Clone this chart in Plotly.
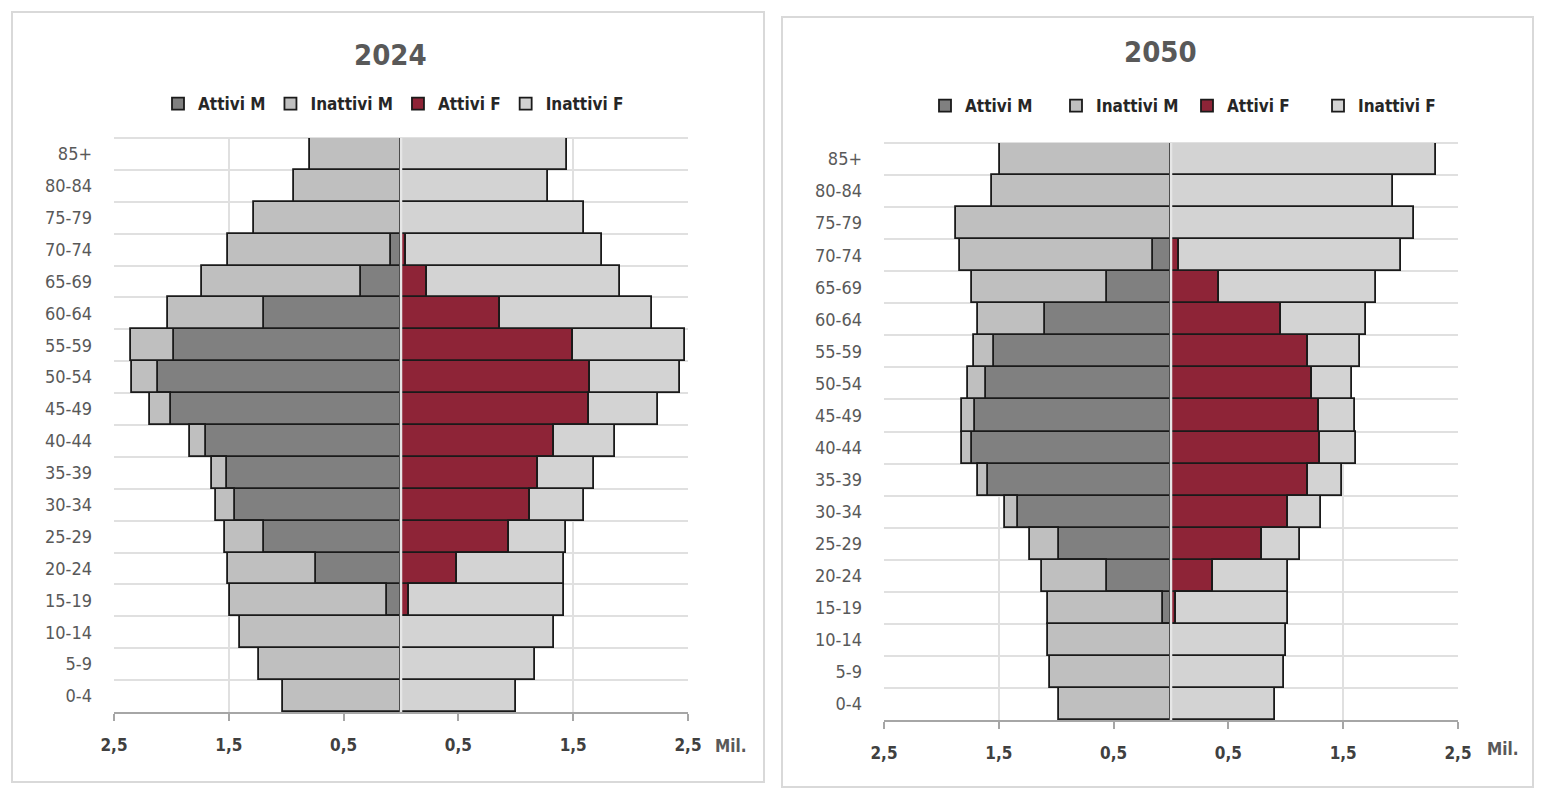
import plotly.graph_objects as go

# ---------------- data (millions) ----------------
ages = ["0-4", "5-9", "10-14", "15-19", "20-24", "25-29", "30-34", "35-39", "40-44",
        "45-49", "50-54", "55-59", "60-64", "65-69", "70-74", "75-79", "80-84", "85+"]

# 2024
att_m_2024 = [0, 0, 0, 0.12, 0.74, 1.19, 1.45, 1.52, 1.70, 2.00, 2.12, 1.98, 1.19, 0.35, 0.09, 0, 0, 0]
inatt_m_2024 = [1.03, 1.24, 1.40, 1.37, 0.77, 0.34, 0.16, 0.13, 0.14, 0.19, 0.22, 0.37, 0.84, 1.38, 1.42, 1.28, 0.93, 0.79]
att_f_2024 = [0, 0, 0, 0.07, 0.49, 0.94, 1.12, 1.19, 1.33, 1.64, 1.65, 1.50, 0.86, 0.23, 0.04, 0, 0, 0]
inatt_f_2024 = [1.00, 1.17, 1.33, 1.35, 0.93, 0.50, 0.47, 0.49, 0.53, 0.60, 0.78, 0.97, 1.33, 1.68, 1.71, 1.59, 1.28, 1.45]

# 2050
att_m_2050 = [0, 0, 0, 0.07, 0.56, 0.98, 1.33, 1.59, 1.73, 1.71, 1.61, 1.54, 1.10, 0.56, 0.16, 0, 0, 0]
inatt_m_2050 = [0.98, 1.05, 1.07, 1.00, 0.56, 0.25, 0.12, 0.09, 0.09, 0.11, 0.16, 0.18, 0.58, 1.17, 1.68, 1.87, 1.56, 1.49]
att_f_2050 = [0, 0, 0, 0.04, 0.37, 0.79, 1.02, 1.19, 1.30, 1.29, 1.23, 1.19, 0.96, 0.42, 0.07, 0, 0, 0]
inatt_f_2050 = [0.91, 0.98, 1.00, 0.98, 0.65, 0.33, 0.29, 0.30, 0.31, 0.31, 0.35, 0.46, 0.74, 1.37, 1.93, 2.12, 1.93, 2.31]

series_names = ["Attivi M", "Inattivi M", "Attivi F", "Inattivi F"]
series_colors = ["#808080", "#bfbfbf", "#8e2437", "#d3d3d3"]
tick_vals = [-2.5, -1.5, -0.5, 0.5, 1.5, 2.5]
tick_text = ["2,5", "1,5", "0,5", "0,5", "1,5", "2,5"]
years = ["2024", "2050"]

panels = [
    (att_m_2024, inatt_m_2024, att_f_2024, inatt_f_2024),
    (att_m_2050, inatt_m_2050, att_f_2050, inatt_f_2050),
]

W, H = 1547, 796
FONT = "Liberation Sans Narrow, Arial Narrow, DejaVu Sans Condensed, sans-serif"
TXT = "#595959"

fig = go.Figure()
for p, (am, im, af, inf) in enumerate(panels):
    xa = "x" if p == 0 else "x2"
    ya = "y" if p == 0 else "y2"
    lg = "legend" if p == 0 else "legend2"
    vals = [[-v for v in am], [-v for v in im], af, inf]
    for name, col, v in zip(series_names, series_colors, vals):
        fig.add_trace(go.Bar(
            y=ages, x=v, name=name, orientation="h",
            marker=dict(color=col, line=dict(color="#1a1a1a", width=1.8)),
            xaxis=xa, yaxis=ya, legend=lg, hoverinfo="skip",
        ))

# pixel geometry
def px(x):
    return x / W

def py(y):
    return 1 - y / H

plot_boxes = [(114, 688, 138, 712), (884, 1458, 143, 720)]

axis_common = dict(
    range=[-2.5, 2.5], tickvals=tick_vals, ticktext=tick_text, automargin=False,
    showgrid=True, gridcolor="#e0e0e0", gridwidth=2, zeroline=False,
    showline=True, linecolor="#a6a6a6", linewidth=2,
    ticks="outside", ticklen=7, tickcolor="#a6a6a6", tickwidth=2,
    tickfont=dict(family=FONT, size=17, color="#404040", weight="bold"),
    ticklabelstandoff=10, fixedrange=True,
)
yaxis_common = dict(
    type="category", tickson="boundaries", showgrid=True, gridcolor="#e0e0e0",
    gridwidth=2, ticks="", showline=False, zeroline=False, automargin=False,
    tickfont=dict(family=FONT, size=18, color=TXT), ticklabelstandoff=21,
    fixedrange=True,
)

x0, x1, y0, y1 = plot_boxes[0]
fig.update_layout(xaxis=dict(domain=[px(x0), px(x1)], anchor="y", **axis_common),
                  yaxis=dict(domain=[py(y1), py(y0)], anchor="x", **yaxis_common))
x0, x1, y0, y1 = plot_boxes[1]
fig.update_layout(xaxis2=dict(domain=[px(x0), px(x1)], anchor="y2", **axis_common),
                  yaxis2=dict(domain=[py(y1), py(y0)], anchor="x2", **yaxis_common))

legend_common = dict(
    orientation="h", yanchor="middle", xanchor="left", bgcolor="rgba(0,0,0,0)",
    font=dict(family=FONT, size=17, color="#262626", weight="bold"), itemwidth=30,
    itemclick=False, itemdoubleclick=False, tracegroupgap=0,
)
fig.update_layout(
    legend=dict(x=px(158), y=py(104), **legend_common),
    legend2=dict(x=px(925), y=py(106), entrywidth=86, **legend_common),
)

shapes = []
# outer frames
for bx0, by0, bx1, by1 in [(12, 12, 764, 782), (782, 17, 1533, 787)]:
    shapes.append(dict(type="rect", xref="paper", yref="paper",
                       x0=px(bx0), x1=px(bx1), y0=py(by1), y1=py(by0),
                       line=dict(color="#d9d9d9", width=2), fillcolor="rgba(0,0,0,0)",
                       layer="below"))
# top boundary of plot areas
for xr, yr in [("x domain", "y domain"), ("x2 domain", "y2 domain")]:
    shapes.append(dict(type="line", xref=xr, yref=yr, x0=0, x1=1, y0=1, y1=1,
                       line=dict(color="#e0e0e0", width=2), layer="below"))
# central divider lines
for xr, yr in [("x", "y domain"), ("x2", "y2 domain")]:
    shapes.append(dict(type="line", xref=xr, yref=yr, x0=0, x1=0, y0=0, y1=1,
                       line=dict(color="#e6e6e6", width=2.5), layer="above"))

annotations = []
for (bx0, bx1, by0, by1), yr, ty in zip(plot_boxes, years, [55, 52]):
    annotations.append(dict(text=yr, xref="paper", yref="paper",
                            x=px((bx0 + bx1) / 2 - 11), y=py(ty), showarrow=False,
                            font=dict(family=FONT, size=29, color=TXT, weight="bold"),
                            xanchor="center", yanchor="middle"))
for mx, my in [(731, 746), (1503, 749)]:
    annotations.append(dict(text="Mil.", xref="paper", yref="paper", x=px(mx), y=py(my),
                            showarrow=False, xanchor="center", yanchor="middle",
                            font=dict(family=FONT, size=17, color=TXT, weight="bold")))

fig.update_layout(
    width=W, height=H, margin=dict(l=0, r=0, t=0, b=0, autoexpand=False),
    paper_bgcolor="white", plot_bgcolor="white",
    barmode="relative", bargap=0, showlegend=True,
    shapes=shapes, annotations=annotations,
)

fig.write_html("out.html", config={"displayModeBar": False},
               post_script="document.body.style.margin='0';document.body.style.overflow='hidden';")
